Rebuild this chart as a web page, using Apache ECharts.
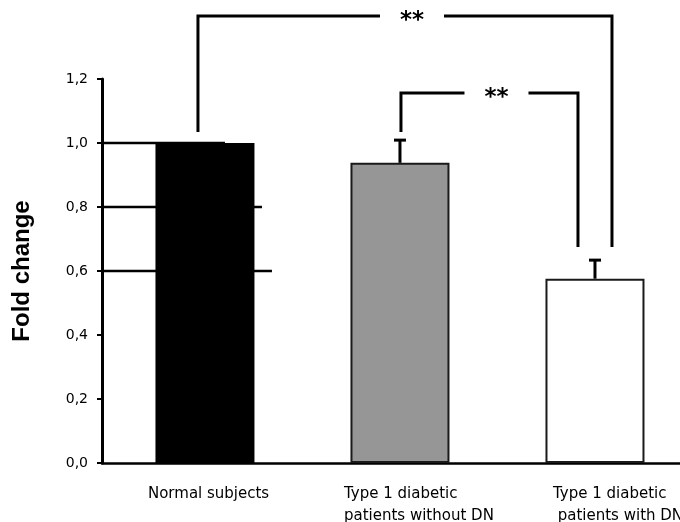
<!DOCTYPE html>
<html><head><meta charset="utf-8">
<script src="https://cdn.jsdelivr.net/npm/echarts@6/dist/echarts.min.js"></script>
<style>html,body{margin:0;padding:0;background:#fff}#c{width:680px;height:522px}</style>
</head><body><div id="c"></div>
<script>
// ---- data ----
const categories = ['Normal subjects', 'Type 1 diabetic\npatients without DN', 'Type 1 diabetic\n patients with DN'];
const foldChange = [1.0, 0.938, 0.576];
const errorUpper = [1.0, 1.009, 0.634];
const yTicks = [0, 0.2, 0.4, 0.6, 0.8, 1.0, 1.2];
// significance brackets (category index from/to, heights in fold-change units)
const bracketFrom = [0, 1];
const bracketTo = [2, 2];
const bracketTop = [1.397, 1.156];
const bracketLeftEnd = [1.034, 1.034];
const bracketRightEnd = [0.675, 0.675];
const bracketLabel = ['**', '**'];
// partial reference lines at these levels
const refLevels = [1.0, 0.8, 0.6];

// ---- styles / layout ----
const barColors = ['#000000', '#969696', '#ffffff'];
const barBorders = [0, 2, 2];
const labelDx = [-57, -56, -42];
const bracketDxFrom = [-7, 1];
const bracketDxTo = [17, -17];
const refEndDx = [20, 57, 67];
const FONT = 'DejaVu Sans';

const chart = echarts.init(document.getElementById('c'), null, {renderer: 'canvas'});
const xMin = -0.528, xMax = 2.436;

const option = {
  animation: false,
  backgroundColor: '#ffffff',
  grid: {left: 102, right: 0, top: 79, bottom: 59},
  xAxis: {
    type: 'value', min: xMin, max: xMax,
    axisLine: {show: true, onZero: false, lineStyle: {color: '#000', width: 2.5}},
    axisTick: {show: false}, axisLabel: {show: false}, splitLine: {show: false}
  },
  yAxis: {
    type: 'value', min: yTicks[0], max: yTicks[yTicks.length - 1], interval: 0.2,
    name: 'Fold change', nameLocation: 'middle', nameGap: 68,
    nameTextStyle: {fontFamily: 'Liberation Sans', fontWeight: 'bold', fontSize: 24, color: '#000'},
    axisLine: {show: true, onZero: false, lineStyle: {color: '#000', width: 3}},
    axisTick: {show: true, length: 5, lineStyle: {color: '#000', width: 2}},
    axisLabel: {
      margin: 14, color: '#000', fontFamily: FONT, fontSize: 14,
      formatter: v => v.toFixed(1).replace('.', ',')
    },
    splitLine: {show: false}
  },
  series: [
    {
      type: 'custom', name: 'ref', z: 1, clip: false,
      data: refLevels.map((v, i) => [i, v]),
      renderItem: (params, api) => {
        const i = api.value(0);
        const a = api.coord([xMin, api.value(1)]);
        const b = api.coord([0, api.value(1)]);
        return {type: 'line', shape: {x1: a[0], y1: a[1], x2: b[0] + refEndDx[i], y2: a[1]},
          style: {stroke: '#000', lineWidth: 2.5}};
      }
    },
    {
      type: 'bar', z: 2, barWidth: 99,
      data: foldChange.map((v, i) => ({
        value: [i, v],
        itemStyle: {color: barColors[i], borderColor: '#1a1a1a', borderWidth: barBorders[i]}
      }))
    },
    {
      type: 'custom', name: 'err', z: 3, clip: false,
      data: foldChange.map((v, i) => [i, v, errorUpper[i]]),
      renderItem: (params, api) => {
        const i = api.value(0), m = api.value(1), u = api.value(2);
        if (u <= m) return null;
        const base = api.coord([i, m]);
        const top = api.coord([i, u]);
        return {type: 'group', children: [
          {type: 'line', shape: {x1: top[0], y1: base[1], x2: top[0], y2: top[1]}, style: {stroke: '#000', lineWidth: 3}},
          {type: 'line', shape: {x1: top[0] - 6, y1: top[1], x2: top[0] + 6, y2: top[1]}, style: {stroke: '#000', lineWidth: 3}}
        ]};
      }
    },
    {
      type: 'custom', name: 'brackets', z: 4, clip: false,
      data: bracketFrom.map((f, j) => [f, bracketTo[j], bracketTop[j], bracketLeftEnd[j], bracketRightEnd[j], j]),
      renderItem: (params, api) => {
        const j = api.value(5);
        const l = api.coord([api.value(0), api.value(3)]);
        const r = api.coord([api.value(1), api.value(4)]);
        const t = api.coord([api.value(0), api.value(2)]);
        const xl = l[0] + bracketDxFrom[j], xr = r[0] + bracketDxTo[j], yt = t[1];
        const cx = (xl + xr) / 2 + 7;
        const gap = 32;
        const st = {stroke: '#000', lineWidth: 3, fill: null, lineJoin: 'miter'};
        return {type: 'group', children: [
          {type: 'polyline', shape: {points: [[xl, l[1]], [xl, yt], [cx - gap, yt]]}, style: st},
          {type: 'polyline', shape: {points: [[cx + gap, yt], [xr, yt], [xr, r[1]]]}, style: st},
          {type: 'text', x: cx, y: yt + 5, style: {text: bracketLabel[j], font: 'bold 23px "DejaVu Sans"',
            fill: '#000', align: 'center', verticalAlign: 'middle'}}
        ]};
      }
    },
    {
      type: 'custom', name: 'labels', z: 5, clip: false,
      data: categories.map((c, i) => [i, 0]),
      renderItem: (params, api) => {
        const i = api.value(0);
        const p = api.coord([i, 0]);
        return {type: 'text', x: p[0] + labelDx[i], y: p[1] + 20,
          style: {text: categories[i], font: '15px "DejaVu Sans"', fill: '#000',
            align: 'left', verticalAlign: 'top', lineHeight: 22}};
      }
    }
  ]
};
chart.setOption(option);
</script></body></html>
